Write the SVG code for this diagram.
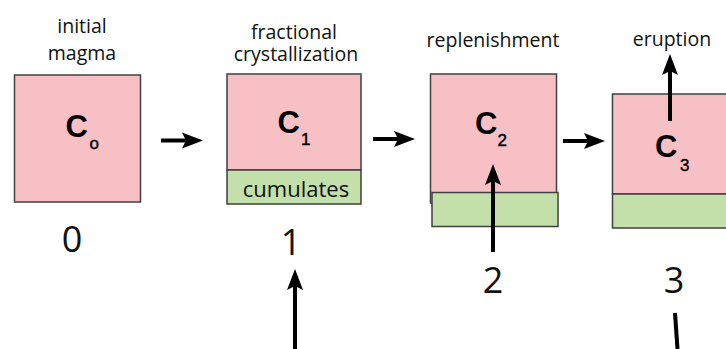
<svg xmlns="http://www.w3.org/2000/svg" width="726" height="349" viewBox="0 0 726 349">
<style>
.lbl{font-family:"Open Sans","Liberation Sans",sans-serif;font-size:19.5px;fill:#111;text-anchor:middle}
.num{font-family:"Open Sans","Liberation Sans",sans-serif;font-size:36px;fill:#111;text-anchor:middle}
.c{font-family:"Liberation Sans",Arial,sans-serif;font-size:31px;font-weight:bold;fill:#000}
.sub{font-family:"Liberation Sans",Arial,sans-serif;font-size:17px;fill:#000;stroke:#000;stroke-width:0.4}
.magma{fill:#f7c0c5;stroke:#404040;stroke-width:1.5}
.cum{fill:#c3dfaa;stroke:#404040;stroke-width:1.5}
.arr{stroke:#000;stroke-width:4;fill:none;marker-end:url(#ah)}
</style>
<defs>
<marker id="ah" markerUnits="userSpaceOnUse" markerWidth="24" markerHeight="20" viewBox="0 -10 24 20" refX="10" refY="0" orient="auto">
<path d="M0,-8 L21,0 L0,8 L4,0 z" fill="#000"/>
</marker>
</defs>
<g id="stage0">
<text class="lbl" x="82" y="33">initial</text>
<text class="lbl" x="82" y="60">magma</text>
<rect class="magma" x="14.5" y="75" width="126" height="127"/>
<text class="c" x="65.5" y="137">C</text>
<text class="sub" x="89.5" y="148.5">o</text>
<text class="num" x="72" y="252">0</text>
</g>
<g id="stage1">
<text class="lbl" x="294" y="39">fractional</text>
<text class="lbl" x="296" y="61">crystallization</text>
<rect class="magma" x="227" y="74" width="134" height="96"/>
<rect class="cum" x="227" y="170" width="134" height="34"/>
<text class="lbl" x="296" y="196.5" style="font-size:22px">cumulates</text>
<text class="c" x="277.5" y="132.5">C</text>
<text class="sub" x="301" y="144.5">1</text>
<text class="num" x="291" y="255">1</text>
</g>
<g id="stage2">
<text class="lbl" x="493" y="47">replenishment</text>
<rect class="magma" x="430.5" y="74" width="126" height="129"/>
<rect class="cum" x="432" y="192.5" width="126" height="34"/>
<text class="c" x="475" y="133.5">C</text>
<text class="sub" x="497.5" y="146">2</text>
<text class="num" x="493" y="292.5">2</text>
</g>
<g id="stage3">
<text class="lbl" x="672" y="46">eruption</text>
<rect class="magma" x="612.5" y="94" width="127" height="100"/>
<rect class="cum" x="612.5" y="194" width="127" height="34"/>
<text class="c" x="655" y="156.5">C</text>
<text class="sub" x="680" y="170.5">3</text>
<text class="num" x="674" y="292.5">3</text>
</g>
<g id="connectors">
<line class="arr" x1="161" y1="140.5" x2="192" y2="140.5"/>
<line class="arr" x1="373" y1="139" x2="404" y2="139"/>
<line class="arr" x1="563" y1="141" x2="594" y2="141"/>
<line class="arr" x1="493" y1="252" x2="493" y2="175"/>
<line class="arr" x1="670" y1="121" x2="670" y2="65"/>
<line class="arr" x1="295" y1="349" x2="295" y2="280"/>
<line x1="675" y1="313" x2="677.5" y2="349" stroke="#000" stroke-width="4"/>
</g>
</svg>
